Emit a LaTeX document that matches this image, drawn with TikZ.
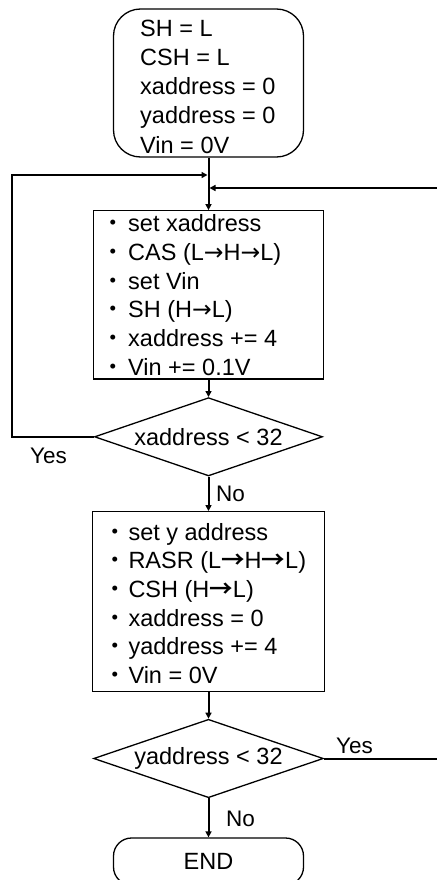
\documentclass[tikz,border=0pt]{standalone}
\usepackage{fontspec}
\setmainfont{Liberation Sans}
\newfontfamily\cjkfont{Noto Sans CJK JP}
\newfontfamily\cjkboldfont{Noto Sans CJK JP Bold}
\newfontfamily\symfont{DejaVu Sans}
\usetikzlibrary{shapes.geometric,arrows.meta}

% bullet and arrow glyphs used in the step lists
\newcommand{\bul}{{\cjkfont ・}}
\newcommand{\thinarr}{{\symfont →}}
\newcommand{\boldarr}{{\cjkboldfont →}}

\begin{document}
\begin{tikzpicture}[x=1pt,y=-1pt,
  every node/.style={font=\fontsize{23.5}{28.7}\selectfont, inner sep=0pt},
  shapeline/.style={draw, line width=1.3pt},
  terminal/.style={shapeline, rectangle, rounded corners=27pt, minimum width=190pt},
  process/.style={shapeline, rectangle},
  decision/.style={shapeline, diamond, aspect=2.9},
  steps/.style={anchor=base west},
  answer/.style={anchor=base west, font=\fontsize{22.5}{27}\selectfont},
  flow/.style={line width=2pt, -{Triangle[length=6pt,width=6pt]}}
]
\useasboundingbox (0,0) rectangle (436,880);

% start block with the initial values
\node[terminal, minimum height=148pt] (start) at (208.5,83) {};
\node[steps, font=\fontsize{23.5}{29.1}\selectfont] (starttext) at (140,36.7)
  {\begin{tabular}[t]{@{}l@{}}SH = L\\ CSH = L\\ xaddress = 0\\ yaddress = 0\\ Vin = 0V\end{tabular}};

% inner loop: x address sweep
\node[process, minimum width=230.3pt, minimum height=168.3pt] (set1) at (208.5,294.9) {};
\node[steps] (set1text) at (101.5,231.7)
  {\begin{tabular}[t]{@{}l@{}}
   \bul\hspace{3pt}set xaddress\\
   \bul\hspace{3pt}CAS (L\thinarr H\thinarr L)\\
   \bul\hspace{3pt}set Vin\\
   \bul\hspace{3pt}SH (H\thinarr L)\\
   \bul\hspace{3pt}xaddress += 4\\
   \bul\hspace{3pt}Vin += 0.1V\end{tabular}};

\node[decision, minimum width=228pt, minimum height=78.3pt] (test1) at (208.5,436.8) {xaddress < 32};

% outer loop: y address step
\node[process, minimum width=232.4pt, minimum height=180pt] (set2) at (208.5,601.7) {};
\node[steps] (set2text) at (103.3,540)
  {\begin{tabular}[t]{@{}l@{}}
   \bul\hspace{1.5pt}set y address\\
   \bul\hspace{1.5pt}RASR (L\boldarr H\boldarr L)\\
   \bul\hspace{1.5pt}CSH (H\boldarr L)\\
   \bul\hspace{1.5pt}xaddress = 0\\
   \bul\hspace{1.5pt}yaddress += 4\\
   \bul\hspace{1.5pt}Vin = 0V\end{tabular}};

\node[decision, minimum width=229.7pt, minimum height=78.4pt] (test2) at (208.5,758.5) {yaddress < 32};

\node[terminal, rounded corners=18pt, minimum height=47pt] (end) at (208.5,861.5) {END};

% junction points and loop corners
\coordinate (joinL) at (208.5,175);
\coordinate (joinR) at (208.5,188);
\coordinate (loopL) at (12.3,436.8);
\coordinate (loopR) at (442,758.5);

% main flow
\draw[flow] (start.south) -- (set1.north);
\draw[flow] (set1.south) -- (test1.north);
\draw[flow] (test1.south) -- (set2.north);
\draw[flow] (set2.south) -- (test2.north);
\draw[flow] (test2.south) -- (end.north);

% loop-back connectors
\draw[flow, shorten >=1pt] (test1.west) -- (loopL) |- (joinL);
\draw[flow, shorten >=1pt] (test2.east) -- (loopR) |- (joinR);

% branch labels
\node[answer] (yes1) at (30,463) {Yes};
\node[answer] (no1) at (216,501.7) {No};
\node[answer] (yes2) at (336,753.3) {Yes};
\node[answer] (no2) at (226,826.7) {No};
\end{tikzpicture}
\end{document}
